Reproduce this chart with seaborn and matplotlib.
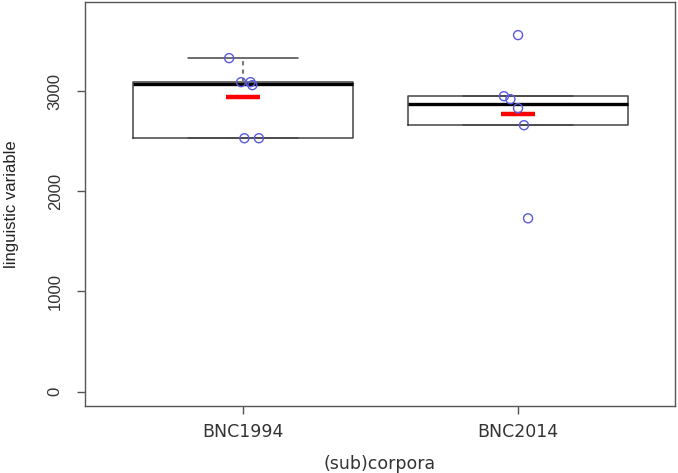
import numpy as np
import pandas as pd
import matplotlib
matplotlib.use('Agg')
import matplotlib.pyplot as plt
import seaborn as sns

corpora = ['BNC1994', 'BNC2014']
bnc1994 = [3330, 3060, 3090, 3090, 2530, 2530]
bnc2014 = [3560, 2950, 2920, 2830, 2660, 1730]
y_ticks = [0, 1000, 2000, 3000]

df = pd.DataFrame({
    'corpus': [corpora[0]] * len(bnc1994) + [corpora[1]] * len(bnc2014),
    'value': bnc1994 + bnc2014,
})


def tukey_stats(vals):
    # R boxplot style hinges (fivenum)
    v = np.sort(np.asarray(vals, dtype=float))
    n = len(v)
    med = np.median(v)
    half = (n + 1) // 2
    q1 = np.median(v[:half])
    q3 = np.median(v[n - half:])
    iqr = q3 - q1
    lo = v[v >= q1 - 1.5 * iqr].min()
    hi = v[v <= q3 + 1.5 * iqr].max()
    return dict(med=med, q1=q1, q3=q3, whislo=lo, whishi=hi, fliers=[])


sns.set_style('white')
fig = plt.figure(figsize=(6.78, 4.73), dpi=100)
ax = fig.add_axes([0.1254, 0.1416, 0.8702, 0.854])

stats = [tukey_stats(df.loc[df.corpus == c, 'value']) for c in corpora]
ax.bxp(stats, positions=[0, 1], widths=0.8, capwidths=0.4, showfliers=False,
       manage_ticks=False,
       boxprops=dict(color='#444444', linewidth=1.1),
       medianprops=dict(color='black', linewidth=2.4),
       whiskerprops=dict(color='#777777', linewidth=1.5, linestyle=(0, (2, 2))),
       capprops=dict(color='#444444', linewidth=1.1))

np.random.seed(7)
sns.stripplot(data=df, x='corpus', y='value', order=corpora, jitter=0.06,
              size=6.5, linewidth=1, ax=ax, zorder=4)
for coll in ax.collections:
    coll.set_facecolor('none')
    coll.set_edgecolor('#5a5ae0')

sns.pointplot(data=df, x='corpus', y='value', order=corpora, estimator='mean',
              errorbar=None, color='red', markers='_', markersize=25,
              markeredgewidth=3.2, linestyle='none', ax=ax)

ax.set_xlim(-0.575, 1.571)
ax.set_ylim(-145, 3890)
ax.set_yticks(y_ticks)
ax.set_yticklabels([str(t) for t in y_ticks], rotation=90, va='center',
                   family='Liberation Sans', fontsize=12, color='#333333')
ax.set_xticks([0, 1])
ax.set_xticklabels(corpora, fontsize=12.5, color='#333333')
ax.tick_params(axis='both', direction='out', length=6, width=1, color='#555555',
               left=True, bottom=True)
ax.tick_params(axis='y', pad=10)
ax.tick_params(axis='x', pad=6)
for s in ax.spines.values():
    s.set_color('#555555')
    s.set_linewidth(1)

ax.set_xlabel('(sub)corpora', fontsize=12.5, color='#333333', labelpad=10)
ax.set_ylabel('linguistic variable', family='Liberation Sans', fontsize=12,
              color='#222222', labelpad=21)

fig.savefig('out.png', dpi=100)
